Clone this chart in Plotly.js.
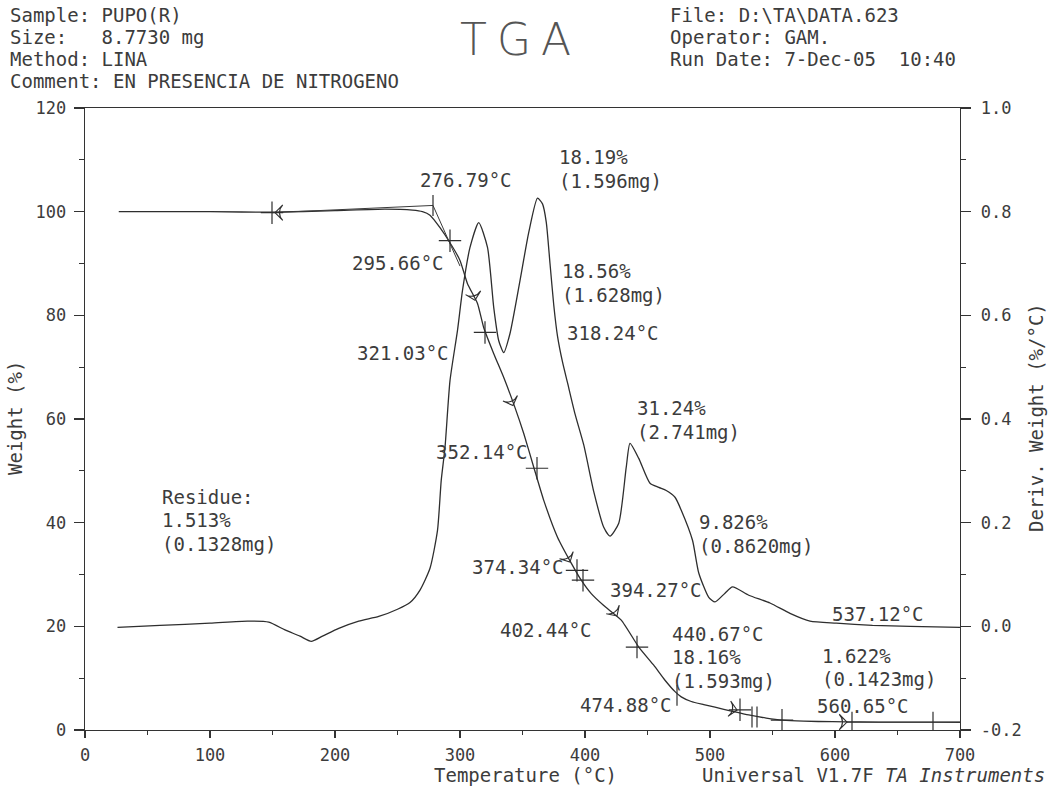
<!DOCTYPE html>
<html>
<head>
<meta charset="utf-8">
<script src="https://cdn.plot.ly/plotly-3.0.1.min.js"></script>
<style>html,body{margin:0;padding:0;background:#fff;}</style>
</head>
<body>
<div id="chart" style="width:1062px;height:786px;"></div>
<script>
// ---------------- DATA ----------------
// Weight curve (left axis, %)
const weightTemp = [27, 60, 100, 150, 200, 240, 262, 270, 276, 284, 292, 300, 306, 314, 319, 327, 335, 344, 351, 359, 367, 378, 389, 397, 405, 415, 429, 443, 455, 464, 472, 477, 485, 495, 504, 518, 531, 545, 558, 575, 598, 620, 650, 680, 700];
const weightPct  = [100.0, 100.0, 100.0, 99.9, 100.2, 100.5, 100.3, 100.0, 99.3, 96.9, 94.0, 90.6, 86.1, 82.3, 77.6, 72.6, 68.0, 62.2, 57.2, 50.7, 44.3, 37.2, 32.2, 28.9, 26.3, 24.0, 21.2, 16.0, 12.5, 9.6, 7.4, 6.4, 5.5, 4.9, 4.4, 3.6, 2.9, 2.3, 1.9, 1.7, 1.6, 1.55, 1.52, 1.51, 1.5];

// Derivative weight curve (right axis, %/°C)
const derivTemp = [26, 60, 100, 130, 147, 160, 172, 181, 190, 203, 219, 235, 250, 260, 268, 276, 282, 285, 288, 292, 298, 302, 308, 315, 322, 327, 331, 335, 340, 348, 355, 362, 366, 369, 372, 375, 378, 382, 386, 392, 399, 407, 415, 420, 427, 433, 436, 443, 452, 459, 465, 472, 477, 486, 491, 499, 504, 512, 518, 531, 548, 564, 580, 601, 630, 660, 700];
const derivVal  = [-0.002, 0.002, 0.006, 0.010, 0.008, -0.007, -0.019, -0.029, -0.019, -0.004, 0.010, 0.019, 0.033, 0.046, 0.070, 0.112, 0.185, 0.282, 0.345, 0.474, 0.571, 0.648, 0.731, 0.779, 0.731, 0.615, 0.551, 0.528, 0.565, 0.667, 0.760, 0.826, 0.815, 0.780, 0.700, 0.620, 0.560, 0.510, 0.470, 0.410, 0.350, 0.260, 0.191, 0.174, 0.199, 0.307, 0.353, 0.324, 0.276, 0.268, 0.262, 0.249, 0.224, 0.166, 0.103, 0.056, 0.047, 0.064, 0.076, 0.060, 0.045, 0.025, 0.010, 0.006, 0.002, 0.000, -0.002];

// Analysis marks on the weight curve
const crossTemp = [149.6, 292, 320, 361.6, 393.6, 398.4, 441.6, 524, 557.6];
const crossPct  = [99.8, 94.4, 76.7, 50.5, 30.8, 28.9, 16.0, 3.9, 1.9];
const tickTemp  = [278.4, 473.6, 533.6, 537.6, 613.6, 678.4];
const tickPct   = [101.2, 6.7, 2.5, 2.5, 1.5, 1.5];
const arrowTemp = [152, 312, 342.4, 388, 425.6, 521.6, 609.6];
const arrowPct  = [99.8, 82.9, 62.6, 32.4, 22.0, 3.85, 1.54];

// Onset tangent constructions
const tangent1Temp = [149.6, 278.4];
const tangent1Pct  = [99.8, 101.2];
const tangent2Temp = [278.4, 300];
const tangent2Pct  = [101.2, 89.5];
const tangent3Temp = [609.6, 700];
const tangent3Pct  = [1.5, 1.5];

// Axis ticks
const xTicks = [0, 100, 200, 300, 400, 500, 600, 700];
const yTicks = [0, 20, 40, 60, 80, 100, 120];
const y2Ticks = [-0.2, 0.0, 0.2, 0.4, 0.6, 0.8, 1.0];
const y2TickLabels = ['-0.2', '0.0', '0.2', '0.4', '0.6', '0.8', '1.0'];

// Text labels
const headerLeft = ['Sample: PUPO(R)', 'Size:   8.7730 mg', 'Method: LINA', 'Comment: EN PRESENCIA DE NITROGENO'];
const headerRight = ['File: D:\\TA\\DATA.623', 'Operator: GAM.', 'Run Date: 7-Dec-05  10:40'];
const plotLabels = ['276.79°C', '18.19%', '(1.596mg)', '295.66°C', '18.56%', '(1.628mg)', '318.24°C', '321.03°C',
  '31.24%', '(2.741mg)', '352.14°C', 'Residue:', '1.513%', '(0.1328mg)', '9.826%', '(0.8620mg)', '374.34°C',
  '394.27°C', '402.44°C', '537.12°C', '440.67°C', '18.16%', '(1.593mg)', '1.622%', '(0.1423mg)', '474.88°C', '560.65°C'];

// ---------------- LAYOUT HELPERS ----------------
const L = 85, R = 960, T0 = 108, B0 = 730;
const MONO = 'DejaVu Sans Mono, Liberation Mono, monospace';
const INK = '#3c3c3c';
const TXT = 19;
function px(x, y, text, opt) {
  opt = opt || {};
  return Object.assign({
    xref: 'paper', yref: 'paper',
    x: (x - L) / (R - L), y: (B0 - y) / (B0 - T0),
    text: text, showarrow: false, xanchor: 'left', yanchor: 'middle',
    font: {family: MONO, size: opt.size || TXT, color: INK}
  }, opt.extra || {});
}
// pixel positions for the in-plot labels (same order as plotLabels)
const labelPos = [[418,180],[557,157],[557,181],[350,263],[560,271],[560,295],[565,333],[355,353],
  [635,408],[635,432],[434,452],[160,497],[160,520],[160,544],[697,522],[697,546],[470,567],
  [608,590],[498,630],[830,614],[670,634],[670,657],[670,681],[820,656],[820,679],[578,705],[815,706]];

const annotations = [];
headerLeft.forEach((t, i) => annotations.push(px(8, 15 + i * 22, t)));
headerRight.forEach((t, i) => annotations.push(px(668, 15 + i * 22, t)));
plotLabels.forEach((t, i) => annotations.push(px(labelPos[i][0], labelPos[i][1], t)));
annotations.push(px(520, 39, '<span style="letter-spacing:10px">TGA</span>',
  {extra: {xanchor: 'center', font: {family: 'DejaVu Sans, sans-serif', size: 44, weight: 200, color: '#555'}}}));
annotations.push(px(525, 775, 'Temperature (°C)', {extra: {xanchor: 'center'}}));
annotations.push(px(700, 775, 'Universal V1.7F <i>TA Instruments</i>'));
annotations.push(px(15, 418, 'Weight (%)', {extra: {xanchor: 'center', yanchor: 'middle', textangle: -90}}));
annotations.push(px(1036, 418, 'Deriv. Weight (%/°C)', {extra: {xanchor: 'center', yanchor: 'middle', textangle: -90}}));

// ---------------- TRACES ----------------
const INKLINE = '#2e2e2e';
const traces = [
  {x: weightTemp, y: weightPct, type: 'scatter', mode: 'lines', yaxis: 'y',
   line: {color: INKLINE, width: 1.3, shape: 'spline', smoothing: 0.5}},
  {x: derivTemp, y: derivVal, type: 'scatter', mode: 'lines', yaxis: 'y2',
   line: {color: INKLINE, width: 1.3, shape: 'spline', smoothing: 0.6}},
  {x: tangent1Temp, y: tangent1Pct, type: 'scatter', mode: 'lines', line: {color: '#3a3a3a', width: 1}},
  {x: tangent2Temp, y: tangent2Pct, type: 'scatter', mode: 'lines', line: {color: '#3a3a3a', width: 1}},
  {x: tangent3Temp, y: tangent3Pct, type: 'scatter', mode: 'lines', line: {color: '#3a3a3a', width: 1}},
  {x: crossTemp, y: crossPct, type: 'scatter', mode: 'markers',
   marker: {symbol: 'cross-thin-open', size: 16, color: INKLINE, line: {color: INKLINE, width: 1.2}}},
  {x: tickTemp, y: tickPct, type: 'scatter', mode: 'markers',
   marker: {symbol: 'line-ns-open', size: 15, color: INKLINE, line: {color: INKLINE, width: 1.2}}},
  {x: arrowTemp, y: arrowPct, type: 'scatter', mode: 'markers',
   marker: {symbol: 'arrow-wide-open', size: 11, angle: [270, 166, 159, 152, 147, 100, 90],
            color: INKLINE, line: {color: INKLINE, width: 1.1}}}
];

const axisCommon = {
  showgrid: false, zeroline: false, showline: true, linecolor: '#333', linewidth: 1.3,
  ticks: 'outside', tickcolor: '#333', tickwidth: 1.2,
  tickfont: {family: MONO, size: 17, color: INK}
};

const layout = {
  width: 1062, height: 786,
  margin: {l: L, r: 1062 - R, t: T0, b: 786 - B0, pad: 0},
  paper_bgcolor: '#fff', plot_bgcolor: '#fff',
  showlegend: false,
  xaxis: Object.assign({}, axisCommon, {
    range: [0, 700], tickvals: xTicks, ticktext: xTicks.map(String), ticklen: 7, mirror: true,
    ticklabelstandoff: 2,
    minor: {tick0: 0, dtick: 50, ticks: 'outside', ticklen: 4, tickcolor: '#333'}
  }),
  yaxis: Object.assign({}, axisCommon, {
    range: [0, 120], tickvals: yTicks, ticktext: yTicks.map(String), ticklen: 10,
    ticklabelstandoff: 4,
    minor: {tick0: 0, dtick: 10, ticks: 'outside', ticklen: 5, tickcolor: '#333'}
  }),
  yaxis2: Object.assign({}, axisCommon, {
    overlaying: 'y', side: 'right', range: [-0.2, 1.0], tickvals: y2Ticks, ticktext: y2TickLabels,
    ticklen: 10, ticklabelstandoff: 6,
    minor: {tick0: -0.2, dtick: 0.1, ticks: 'outside', ticklen: 5, tickcolor: '#333'}
  }),
  annotations: annotations
};

Plotly.newPlot('chart', traces, layout, {displayModeBar: false, staticPlot: true});
</script>
</body>
</html>
